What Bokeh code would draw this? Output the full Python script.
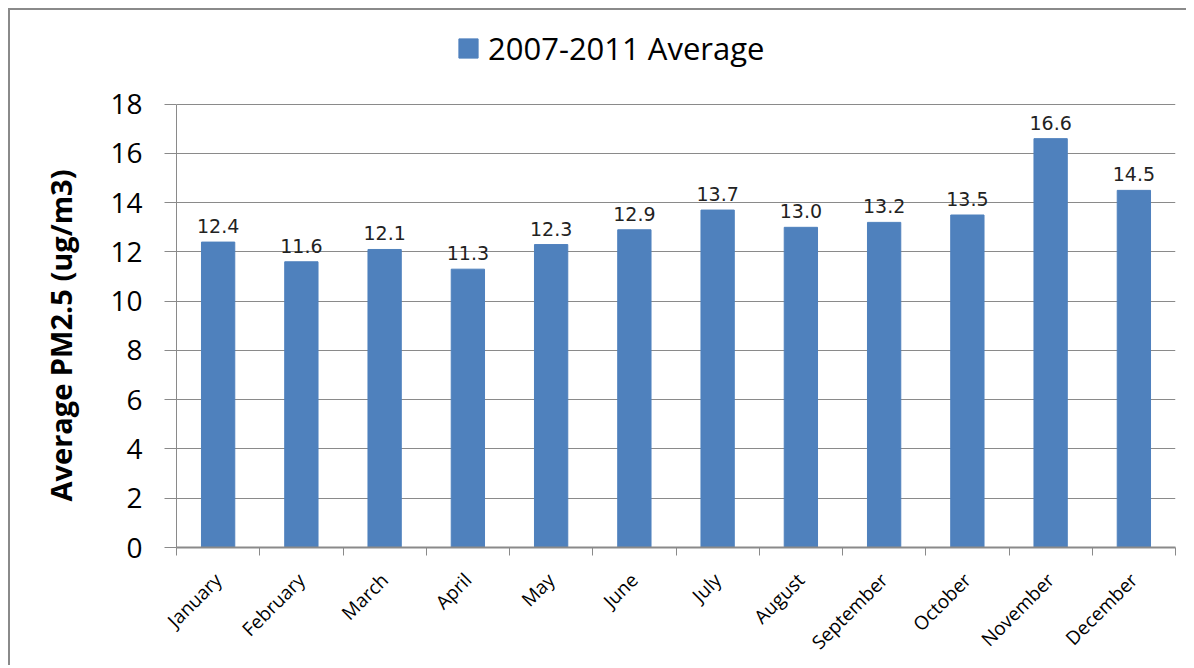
import math
from bokeh.plotting import figure
from bokeh.models import ColumnDataSource, FixedTicker, Legend, LegendItem, Range1d, Title
from bokeh.core.properties import value
from bokeh.embed import file_html
from bokeh.resources import INLINE

months = ["January", "February", "March", "April", "May", "June", "July",
          "August", "September", "October", "November", "December"]
pm25 = [12.4, 11.6, 12.1, 11.3, 12.3, 12.9, 13.7, 13.0, 13.2, 13.5, 16.6, 14.5]
series_name = "2007-2011 Average"
y_label = "Average PM2.5 (ug/m3)"
y_ticks = [0, 2, 4, 6, 8, 10, 12, 14, 16, 18]

xs = [i + 0.5 for i in range(len(months))]
src = ColumnDataSource(dict(x=xs, y=pm25, lbl=[f"{v:.1f}" for v in pm25]))

p = figure(width=1178, height=657, output_backend="svg", toolbar_location=None,
           x_range=Range1d(0, len(months)), y_range=Range1d(0, 21.6),
           min_border_left=166, min_border_right=13, min_border_top=5,
           min_border_bottom=117)
p.styles = {"border-left": "2px solid #8a8a8a", "border-top": "2px solid #8a8a8a",
            "margin-left": "8px", "margin-top": "8px"}
p.outline_line_color = None
p.background_fill_color = "white"
p.border_fill_color = "white"

bars = p.vbar(x="x", top="y", width=0.4, source=src, fill_color="#4F81BD",
              line_color="#4F81BD")
p.text(x="x", y="y", text="lbl", source=src, text_align="center",
       text_baseline="alphabetic", y_offset=-16, text_font=value("DejaVu Sans"),
       text_font_size="19px", text_color="#222222")

# y axis
p.yaxis.ticker = FixedTicker(ticks=y_ticks)
p.yaxis.bounds = (0, 18)
p.yaxis.major_label_text_font = "Open Sans"
p.yaxis.major_label_text_font_size = "28px"
p.yaxis.major_label_text_color = "black"
p.yaxis.major_label_standoff = 22
p.yaxis.axis_line_color = "#8a8a8a"
p.yaxis.axis_line_width = 1
p.yaxis.major_tick_line_color = "#8a8a8a"
p.yaxis.major_tick_out = 12
p.yaxis.major_tick_in = 0
p.yaxis.minor_tick_line_color = None

ytitle = Title(text=y_label, align="left", offset=46, text_font="Open Sans",
               text_font_style="bold", text_font_size="29px", text_color="black",
               standoff=56)
p.add_layout(ytitle, "left")

# x axis
p.xaxis.ticker = FixedTicker(ticks=xs, minor_ticks=list(range(len(months) + 1)))
p.xaxis.major_label_overrides = {x: m for x, m in zip(xs, months)}
p.xaxis.major_label_orientation = math.pi / 4
p.xaxis.major_label_text_font = "Open Sans"
p.xaxis.major_label_text_font_size = "19px"
p.xaxis.major_label_text_color = "black"
p.xaxis.major_label_standoff = 21
p.xaxis.major_tick_line_color = None
p.xaxis.minor_tick_line_color = "#8a8a8a"
p.xaxis.minor_tick_out = 8
p.xaxis.minor_tick_in = 0
p.xaxis.axis_line_color = "#8a8a8a"
p.xaxis.axis_line_width = 2

p.xgrid.grid_line_color = None
p.ygrid.grid_line_color = "#8a8a8a"
p.ygrid.grid_line_width = 1

legend = Legend(items=[LegendItem(label=series_name, renderers=[bars])],
                location=(280, 478), orientation="horizontal",
                label_text_font="Open Sans", label_text_font_size="31px",
                label_text_color="black", glyph_width=24, glyph_height=24,
                border_line_color=None, background_fill_alpha=0,
                label_standoff=8, padding=4, margin=0)
p.add_layout(legend, "center")

open("out.html", "w").write(file_html(p, INLINE))
